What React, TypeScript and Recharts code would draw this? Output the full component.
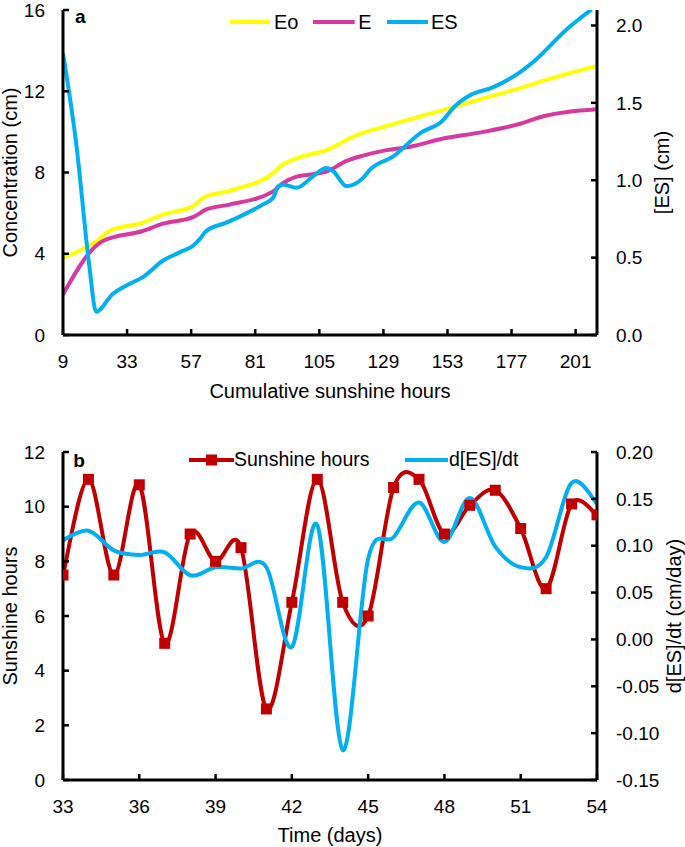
import React from "react";
import { LineChart, Line, XAxis, YAxis, Legend, Label, Customized } from "recharts";

const FONT = "'Liberation Sans', Arial, Helvetica, sans-serif";

// panel a: cumulative sunshine hours (x) and values per series
const eoHours = [9, 22.7, 26.4, 38.9, 46.4, 57.7, 61.4, 71.4, 87.7, 90.2, 96.5, 107.7, 119, 128.9, 139, 155.2, 167.7, 181.4, 188.9, 209];
const eoValues = [3.8, 4.72, 5.12, 5.53, 5.93, 6.34, 6.75, 7.1, 7.97, 8.29, 8.7, 9.1, 9.84, 10.24, 10.62, 11.22, 11.7, 12.2, 12.52, 13.25];

const eHours = [9, 21.4, 23.9, 38.9, 46.4, 57.7, 62.7, 71.4, 87.7, 91.4, 96.5, 102.7, 107.7, 115.2, 121.4, 130.2, 139, 151.4, 166.4, 180.2, 188.9, 209];
const eValues = [2.0, 4.39, 4.63, 5.12, 5.48, 5.8, 6.18, 6.42, 7.07, 7.48, 7.8, 7.92, 8.05, 8.57, 8.83, 9.1, 9.27, 9.67, 10.0, 10.4, 10.77, 11.12];

const esHours = [9, 14, 18.9, 21.4, 27.7, 32.7, 38.9, 46.4, 52.7, 57.7, 60.2, 62.7, 70.2, 75.2, 83.9, 87.7, 89.6, 91.4, 96.5, 102.7, 107.7, 110.2, 115.2, 121.4, 124, 132.7, 142.7, 151.4, 155.2, 161.4, 170, 180.2, 186.4, 197.7, 207];
const esValues = [1.82, 1.23, 0.44, 0.15, 0.267, 0.32, 0.374, 0.48, 0.534, 0.577, 0.62, 0.673, 0.726, 0.765, 0.844, 0.887, 0.96, 0.972, 0.951, 1.026, 1.079, 1.058, 0.962, 1.015, 1.068, 1.154, 1.303, 1.389, 1.468, 1.549, 1.6, 1.699, 1.784, 1.976, 2.104];

const hourTicks = [9, 33, 57, 81, 105, 129, 153, 177, 201];
const concTicks = [0, 4, 8, 12, 16];
const esTicks = [0, 0.5, 1.0, 1.5, 2.0];

// panel b: daily values
const days = [33, 34, 35, 36, 37, 38, 39, 40, 41, 42, 43, 44, 45, 46, 47, 48, 49, 50, 51, 52, 53, 54];
const sunshineHours = [7.5, 11.0, 7.5, 10.8, 5.0, 9.0, 8.0, 8.5, 2.6, 6.5, 11.0, 6.5, 6.0, 10.7, 11.0, 9.0, 10.05, 10.6, 9.2, 7.0, 10.1, 9.7];
const dESdt = [0.106, 0.116, 0.095, 0.09, 0.093, 0.0685, 0.077, 0.0757, 0.077, -0.008, 0.122, -0.118, 0.086, 0.109, 0.146, 0.104, 0.151, 0.099, 0.077, 0.088, 0.167, 0.145];

const dayTicks = [33, 36, 39, 42, 45, 48, 51, 54];
const sunTicks = [0, 2, 4, 6, 8, 10, 12];
const rateTicks = [-0.15, -0.1, -0.05, 0, 0.05, 0.1, 0.15, 0.2];

const toPoints = (xs: number[], ys: number[]) => xs.map((h, i) => ({ h, v: ys[i] }));
const eoData = toPoints(eoHours, eoValues);
const eData = toPoints(eHours, eValues);
const esData = toPoints(esHours, esValues);
const dailyData = days.map((day, i) => ({ day, sun: sunshineHours[i], rate: dESdt[i] }));

// Excel-like smoothed line: cubic bezier with tangents (p[i+1]-p[i-1])/6
const smoothCurve = (context: any) => {
  let pts: number[][] = [];
  return {
    areaStart() {},
    areaEnd() {},
    lineStart() {
      pts = [];
    },
    point(x: number, y: number) {
      pts.push([+x, +y]);
    },
    lineEnd() {
      const n = pts.length;
      if (!n) return;
      context.moveTo(pts[0][0], pts[0][1]);
      for (let i = 0; i < n - 1; i++) {
        const p0 = pts[Math.max(i - 1, 0)];
        const p1 = pts[i];
        const p2 = pts[i + 1];
        const p3 = pts[Math.min(i + 2, n - 1)];
        context.bezierCurveTo(
          p1[0] + (p2[0] - p0[0]) / 6,
          p1[1] + (p2[1] - p0[1]) / 6,
          p2[0] - (p3[0] - p1[0]) / 6,
          p2[1] - (p3[1] - p1[1]) / 6,
          p2[0],
          p2[1]
        );
      }
    },
  };
};

const axisLine = { stroke: "#000", strokeWidth: 3 };
const tickLine = { stroke: "#000", strokeWidth: 2.5 };
const tickStyle = { fill: "#000", fontSize: 19 };

function AxisTitle({ text, x, y, angle }: { text: string; x: number; y: number; angle?: number }) {
  return (
    <text
      x={x}
      y={y}
      textAnchor="middle"
      fontSize={20}
      fill="#000"
      transform={angle ? `rotate(${angle}, ${x}, ${y})` : undefined}
    >
      {text}
    </text>
  );
}

const squareDot = (p: any) => (
  <rect key={`sq-${p.index}`} x={p.cx - 5.5} y={p.cy - 5.5} width={11} height={11} fill="#c00000" />
);

// legend slots keyed by series name: icon left, icon width, text left (px)
const legendSlots: Record<string, { icon: number; w: number; text: number }> = {
  Eo: { icon: 229.5, w: 40, text: 274 },
  E: { icon: 313.3, w: 41.7, text: 358.3 },
  ES: { icon: 386.5, w: 41, text: 431 },
  "Sunshine hours": { icon: 188.5, w: 45, text: 234 },
  "d[ES]/dt": { icon: 405, w: 43, text: 449 },
};

const makeLegend = (lineY: number, fontSize: number) => (props: any) => (
  <div style={{ position: "relative", width: 685, height: 60, fontFamily: FONT }}>
    {(props.payload ?? []).map((item: any) => {
      const s = legendSlots[item.value];
      if (!s) return null;
      return (
        <React.Fragment key={item.value}>
          <svg width={s.w} height={14} style={{ position: "absolute", left: s.icon, top: lineY - 7 }}>
            <line x1={0} x2={s.w} y1={7} y2={7} stroke={item.color} strokeWidth={4} />
            {item.dataKey === "sun" && <rect x={s.w / 2 - 5.5} y={1.5} width={11} height={11} fill={item.color} />}
          </svg>
          <div
            style={{
              position: "absolute",
              left: s.text,
              top: lineY - fontSize / 2,
              fontSize,
              lineHeight: `${fontSize}px`,
              color: "#000",
              whiteSpace: "nowrap",
            }}
          >
            {item.value}
          </div>
        </React.Fragment>
      );
    })}
  </div>
);

export default function App() {
  return (
    <div style={{ position: "absolute", left: 0, top: 0, width: 685, height: 847, background: "#fff", fontFamily: FONT }}>
      <LineChart width={685} height={420} margin={{ top: 10, right: 0, bottom: 20, left: 0 }}>
        <XAxis
          dataKey="h"
          type="number"
          domain={[9, 209]}
          ticks={hourTicks}
          interval={0}
          allowDataOverflow
          height={65}
          axisLine={axisLine}
          tickLine={tickLine}
          tickSize={-6}
          tickMargin={26}
          tick={tickStyle}
        >
          <Label
            content={(p: any) => (
              <AxisTitle text="Cumulative sunshine hours" x={p.viewBox.x + p.viewBox.width / 2} y={398} />
            )}
          />
        </XAxis>
        <YAxis
          yAxisId="l"
          domain={[0, 16]}
          ticks={concTicks}
          interval={0}
          allowDataOverflow
          width={63}
          axisLine={axisLine}
          tickLine={tickLine}
          tickSize={-6}
          tickMargin={24}
          tick={tickStyle}
        >
          <Label
            content={(p: any) => (
              <AxisTitle text="Concentration (cm)" x={17} y={p.viewBox.y + p.viewBox.height / 2} angle={-90} />
            )}
          />
        </YAxis>
        <YAxis
          yAxisId="r"
          orientation="right"
          domain={[0, 2.1]}
          ticks={esTicks}
          interval={0}
          allowDataOverflow
          width={88}
          axisLine={axisLine}
          tickLine={tickLine}
          tickSize={-6}
          tickMargin={25}
          tick={tickStyle}
          tickFormatter={(v: number) => v.toFixed(1)}
        >
          <Label
            content={(p: any) => (
              <AxisTitle text="[ES] (cm)" x={669} y={p.viewBox.y + p.viewBox.height / 2} angle={-90} />
            )}
          />
        </YAxis>
        <Legend
          layout="horizontal"
          verticalAlign="middle"
          align="center"
          wrapperStyle={{ top: 0, left: 0, width: 685, height: 60 }}
          content={makeLegend(21.7, 20)}
        />
        <Line data={eoData} yAxisId="l" dataKey="v" name="Eo" type="monotone" stroke="#ffff00" strokeWidth={4} dot={false} activeDot={false} isAnimationActive={false} />
        <Line data={eData} yAxisId="l" dataKey="v" name="E" type="monotone" stroke="#d63a9e" strokeWidth={4} dot={false} activeDot={false} isAnimationActive={false} />
        <Line data={esData} yAxisId="r" dataKey="v" name="ES" type="monotone" stroke="#00b0f0" strokeWidth={4} dot={false} activeDot={false} isAnimationActive={false} />
        <Customized
          component={() => (
            <text x={75} y={22.7} fontSize={19} fontWeight="bold" fill="#000">
              a
            </text>
          )}
        />
      </LineChart>

      <LineChart width={685} height={427} data={dailyData} margin={{ top: 32, right: 0, bottom: 12, left: 0 }}>
        <XAxis
          dataKey="day"
          type="number"
          domain={[33, 54]}
          ticks={dayTicks}
          interval={0}
          allowDataOverflow
          height={55}
          axisLine={axisLine}
          tickLine={tickLine}
          tickSize={-6}
          tickMargin={26}
          tick={tickStyle}
        >
          <Label
            content={(p: any) => (
              <AxisTitle text="Time (days)" x={p.viewBox.x + p.viewBox.width / 2} y={422} />
            )}
          />
        </XAxis>
        <YAxis
          yAxisId="l"
          domain={[0, 12]}
          ticks={sunTicks}
          interval={0}
          allowDataOverflow
          width={63}
          axisLine={axisLine}
          tickLine={tickLine}
          tickSize={-6}
          tickMargin={24}
          tick={tickStyle}
        >
          <Label
            content={(p: any) => (
              <AxisTitle text="Sunshine hours" x={17} y={p.viewBox.y + p.viewBox.height / 2} angle={-90} />
            )}
          />
        </YAxis>
        <YAxis
          yAxisId="r"
          orientation="right"
          domain={[-0.15, 0.2]}
          ticks={rateTicks}
          interval={0}
          allowDataOverflow
          width={88}
          axisLine={axisLine}
          tickLine={tickLine}
          tickSize={-6}
          tickMargin={25}
          tick={tickStyle}
          tickFormatter={(v: number) => v.toFixed(2)}
        >
          <Label
            content={(p: any) => (
              <AxisTitle text="d[ES]/dt (cm/day)" x={681} y={p.viewBox.y + p.viewBox.height / 2} angle={-90} />
            )}
          />
        </YAxis>
        <Legend
          layout="horizontal"
          verticalAlign="middle"
          align="center"
          wrapperStyle={{ top: 0, left: 0, width: 685, height: 60 }}
          content={makeLegend(39.7, 19.5)}
        />
        <Line yAxisId="l" dataKey="sun" name="Sunshine hours" type={smoothCurve as any} stroke="#c00000" strokeWidth={4} dot={squareDot} activeDot={false} isAnimationActive={false} />
        <Line yAxisId="r" dataKey="rate" name="d[ES]/dt" type={smoothCurve as any} stroke="#00b0f0" strokeWidth={4} dot={false} activeDot={false} isAnimationActive={false} />
        <Customized
          component={() => (
            <text x={73.3} y={46.7} fontSize={19} fontWeight="bold" fill="#000">
              b
            </text>
          )}
        />
      </LineChart>
    </div>
  );
}
